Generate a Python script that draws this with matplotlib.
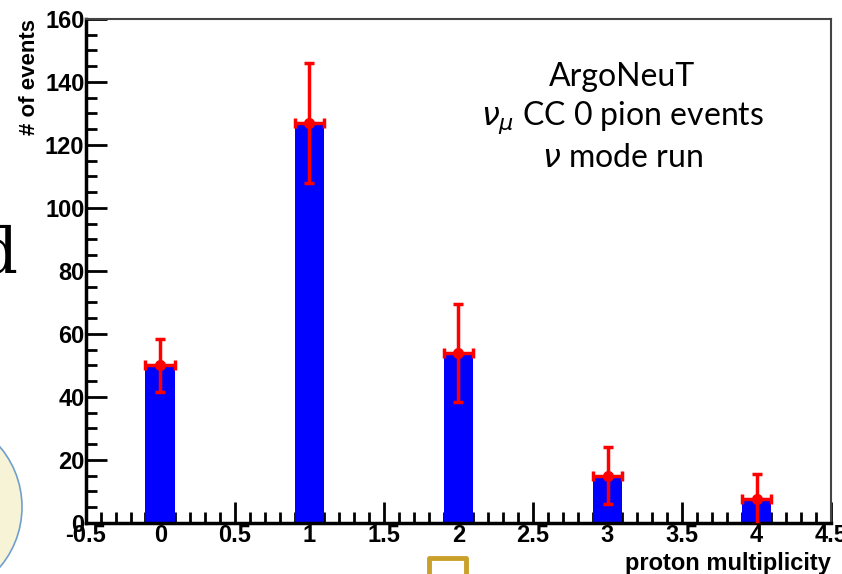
import matplotlib.pyplot as plt
from matplotlib.patches import Circle
from matplotlib.transforms import IdentityTransform
from matplotlib.ticker import MultipleLocator

# data
multiplicity = [0, 1, 2, 3, 4]
events = [50, 127, 54, 15, 7.5]
event_err = [8.3, 19, 15.5, 9, 8]
bin_halfwidth = 0.1

fig = plt.figure(figsize=(8.42, 5.74), dpi=100)
ax = fig.add_axes([0.102, 0.0889, 0.885, 0.878])

ax.bar(multiplicity, events, width=2 * bin_halfwidth, color='#0000ff', zorder=2)
ax.errorbar(multiplicity, events, yerr=event_err, xerr=bin_halfwidth,
            fmt='o', color='#ff0000', ms=7, elinewidth=2.5, capsize=3.5,
            capthick=2.5, zorder=3)

ax.set_xlim(-0.5, 4.5)
ax.set_ylim(0, 160)
ax.xaxis.set_major_locator(MultipleLocator(0.5))
ax.xaxis.set_minor_locator(MultipleLocator(0.1))
ax.yaxis.set_major_locator(MultipleLocator(20))
ax.yaxis.set_minor_locator(MultipleLocator(5))
ax.tick_params(which='both', direction='in', top=False, right=False,
               width=2, color='black')
ax.tick_params(which='major', length=15, labelsize=17, pad=1)
ax.tick_params(which='minor', length=8)
ax.set_xticks([-0.5, 0, 0.5, 1, 1.5, 2, 2.5, 3, 3.5, 4, 4.5])
ax.set_xticklabels(['-0.5', '0', '0.5', '1', '1.5', '2', '2.5', '3', '3.5', '4', '4.5'])
for lab in ax.get_xticklabels() + ax.get_yticklabels():
    lab.set_fontweight('bold')
    lab.set_fontfamily('Liberation Sans')

for s in ['left', 'bottom']:
    ax.spines[s].set_linewidth(2.5)
for s in ['top', 'right']:
    ax.spines[s].set_linewidth(1.5)
    ax.spines[s].set_color('#444444')

ax.set_ylabel('# of events', fontsize=16, fontweight='bold',
              family='Liberation Sans', labelpad=0)
ax.yaxis.set_label_coords(-0.062, 0.885)
ax.set_xlabel('proton multiplicity', fontsize=17, fontweight='bold',
              family='Liberation Sans', labelpad=0, ha='right')
ax.xaxis.set_label_coords(1.0, -0.058)

ax.text(0.72, 0.915, 'ArgoNeuT\n$\\nu_\\mu$ CC 0 pion events\n$\\nu$ mode run',
        transform=ax.transAxes, ha='center', va='top', fontsize=23,
        family='Lato', linespacing=1.3)

# slide leftovers around the chart
fig.text(-0.026, 1 - 273 / 574, 'd', fontsize=45, family='DejaVu Serif',
         ha='left', va='baseline')
fig.patches.append(Circle((-71, 67), 93, transform=IdentityTransform(),
                          facecolor='#f6f3d6', edgecolor='#6f9fd0', lw=1.2))
fig.lines.append(plt.Line2D([0.509, 0.509, 0.553, 0.553], [0.0, 0.028, 0.028, 0.0],
                            transform=fig.transFigure, color='#c9a02a', lw=3.5))

fig.savefig('out.png', dpi=100)
